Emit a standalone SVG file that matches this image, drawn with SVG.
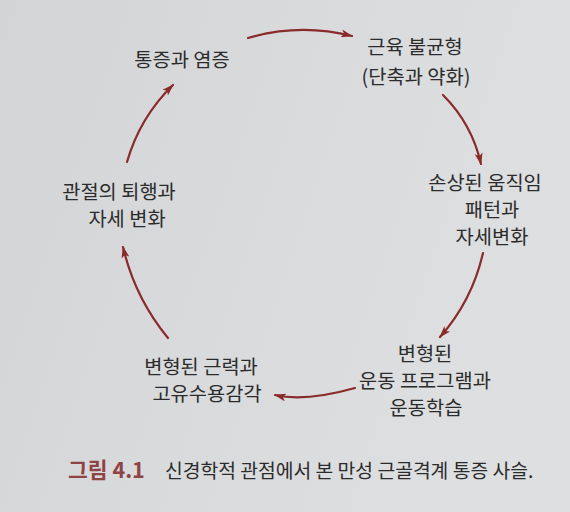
<svg xmlns="http://www.w3.org/2000/svg" width="570" height="512" viewBox="0 0 570 512">
  <defs>
    <linearGradient id="bg" x1="0" y1="0" x2="1" y2="0.3">
      <stop offset="0" stop-color="#d3d4d6"/>
      <stop offset="0.5" stop-color="#d9dadc"/>
      <stop offset="1" stop-color="#dedfe0"/>
    </linearGradient>
    <marker id="ah" viewBox="0 0 12 8" refX="11" refY="4" markerWidth="12" markerHeight="8" markerUnits="userSpaceOnUse" orient="auto">
      <path d="M0,0 L12,4 L0,8 L3,4 Z" fill="#8a2a2a"/>
    </marker>
    <style>
      .t { font-family: "Noto Sans CJK KR", "Noto Sans", sans-serif; font-size: 19.8px; fill: #2b2b2b; text-anchor: middle; }
      .c { stroke: #8a2a2a; stroke-width: 2.2; fill: none; marker-end: url(#ah); stroke-linecap: round; }
      .cap { font-family: "Noto Sans CJK KR", "Noto Sans", sans-serif; font-size: 19.3px; fill: #2b2b2b; }
      .fig { font-family: "Noto Sans CJK KR", "Noto Sans", sans-serif; font-size: 21.5px; font-weight: bold; fill: #8e4444; }
    </style>
  </defs>
  <rect width="570" height="512" fill="url(#bg)"/>

  <g id="connectors">
    <path class="c" d="M248,38 Q300,23 352,36"/>
    <path class="c" d="M443,95 Q472,124 481,164"/>
    <path class="c" d="M483,253 Q472,301 440,337"/>
    <path class="c" d="M355,388 Q305,402 275,395"/>
    <path class="c" d="M168,338 Q135,298 123,247"/>
    <path class="c" d="M127,162 Q140,117 173,85"/>
  </g>

  <g id="node-pain">
    <text class="t" x="182" y="67">통증과 염증</text>
  </g>
  <g id="node-muscle">
    <text class="t" x="415" y="54">근육 불균형</text>
    <text class="t" x="416" y="84">(단축과 약화)</text>
  </g>
  <g id="node-movement">
    <text class="t" x="485" y="190">손상된 움직임</text>
    <text class="t" x="492" y="217">패턴과</text>
    <text class="t" x="492" y="244">자세변화</text>
  </g>
  <g id="node-motor">
    <text class="t" x="425" y="361">변형된</text>
    <text class="t" x="425" y="388">운동 프로그램과</text>
    <text class="t" x="426" y="415">운동학습</text>
  </g>
  <g id="node-strength">
    <text class="t" x="201" y="374">변형된 근력과</text>
    <text class="t" x="207" y="401">고유수용감각</text>
  </g>
  <g id="node-joint">
    <text class="t" x="119" y="199">관절의 퇴행과</text>
    <text class="t" x="127" y="226">자세 변화</text>
  </g>

  <g id="caption">
    <text class="fig" x="68" y="478">그림 4.1</text>
    <text class="cap" x="165" y="478">신경학적 관점에서 본 만성 근골격계 통증 사슬.</text>
  </g>
</svg>
